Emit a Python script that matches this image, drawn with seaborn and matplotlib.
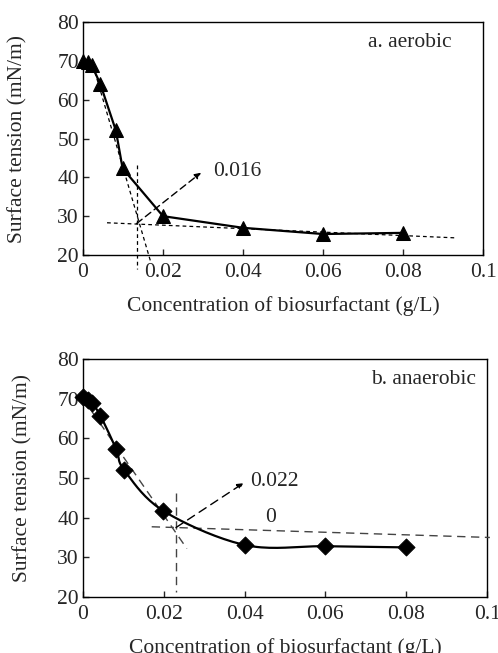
import matplotlib.pyplot as plt
import seaborn as sns
import pandas as pd
import numpy as np

#----------------------------------------------------
# aerobic (a)
conc_a = [0, 0.0012, 0.0022, 0.0043, 0.0082, 0.0099, 0.02, 0.04, 0.06, 0.08]
st_a = [70.0, 69.6, 68.8, 64.1, 52.1, 42.3, 30.0, 27.0, 25.4, 25.7]
# anaerobic (b)
conc_b = [0, 0.0012, 0.0022, 0.0043, 0.0082, 0.0102, 0.0199, 0.0401, 0.06, 0.08]
st_b = [70.4, 69.7, 68.9, 65.7, 57.3, 52.0, 41.7, 33.1, 32.8, 32.5]

# tangent / guide lines (x pair, y pair)
guides_a = [([0.0025, 0.0169], [68.8, 18.3]),
            ([0.006, 0.0934], [28.3, 24.4]),
            ([0.0134, 0.0134], [43.1, 16.3])]
arrow_a = ((0.0134, 28.1), (0.0295, 41.2))
cmc_a = '0.016'

guides_b = [([0.0002, 0.0257], [69.7, 32.2]),
            ([0.017, 0.1007], [37.7, 35.0]),
            ([0.023, 0.023], [46.1, 21.3])]
arrow_b = ((0.023, 37.5), (0.0397, 48.7))
cmc_b = '0.022'

xticks = [0, 0.02, 0.04, 0.06, 0.08, 0.1]
xticklabels = ['0', '0.02', '0.04', '0.06', '0.08', '0.1']
yticks = [20, 30, 40, 50, 60, 70, 80]

#----------------------------------------------------
sns.set_style('ticks')
plt.rcParams['font.family'] = ['Liberation Serif', 'DejaVu Serif']
plt.rcParams['axes.linewidth'] = 1.0
FS = 15.5

def smooth(x, y, n=20):
	# Catmull-Rom style smoothing used only for drawing the connecting curve
	x = np.asarray(x, float); y = np.asarray(y, float)
	px = np.concatenate([[2*x[0]-x[1]], x, [2*x[-1]-x[-2]]])
	py = np.concatenate([[2*y[0]-y[1]], y, [2*y[-1]-y[-2]]])
	xs, ys = [], []
	t = np.linspace(0, 1, n, endpoint=False)
	for i in range(1, len(px)-2):
		for p, out in ((px, xs), (py, ys)):
			p0, p1, p2, p3 = p[i-1], p[i], p[i+1], p[i+2]
			out.extend(0.5*((2*p1) + (-p0+p2)*t + (2*p0-5*p1+4*p2-p3)*t**2 + (-p0+3*p1-3*p2+p3)*t**3))
	xs.append(x[-1]); ys.append(y[-1])
	return np.array(xs), np.array(ys)

def style_ax(ax, label, ylab_x):
	ax.set_xlim(0, 0.1)
	ax.set_ylim(20, 80)
	ax.set_xticks(xticks)
	ax.set_xticklabels(xticklabels)
	ax.set_yticks(yticks)
	ax.tick_params(direction='in', length=4, width=1, labelsize=FS)
	ax.tick_params(axis='x', pad=6)
	ax.tick_params(axis='y', pad=3)
	for s in ax.spines.values():
		s.set_visible(True)
		s.set_color('black')
	ax.set_xlabel('Concentration of biosurfactant (g/L)', fontsize=FS, labelpad=10)
	ax.set_ylabel('Surface tension (mN/m)', fontsize=FS)
	ax.yaxis.set_label_coords(ylab_x, 0.5)
	ax.text(0.0712, 74.8, label, fontsize=FS, va='center', ha='left')

fig = plt.figure(figsize=(4.98, 6.53), dpi=100)
ax1 = fig.add_axes([0.1667, 0.6095, 0.8033, 0.3568])
ax2 = fig.add_axes([0.1667, 0.0858, 0.8113, 0.3644])

#-------- a. aerobic
df_a = pd.DataFrame({'x': conc_a, 'y': st_a})
sns.lineplot(data=df_a, x='x', y='y', ax=ax1, color='black', lw=1.6, marker='^',
	markersize=10, markeredgecolor='black', zorder=4, clip_on=False)
for gx, gy in guides_a:
	ax1.plot(gx, gy, color='black', lw=0.9, ls=(0, (3, 2.5)), clip_on=False, zorder=3)
ax1.annotate('', xy=arrow_a[1], xytext=arrow_a[0],
	arrowprops=dict(arrowstyle='-|>', color='black', lw=1.0, ls=(0, (5, 3)), mutation_scale=9,
		shrinkA=0, shrinkB=0))
ax1.text(0.0324, 41.4, cmc_a, fontsize=FS, va='center', ha='left')
style_ax(ax1, 'a. aerobic', -0.14)

#-------- b. anaerobic
df_b = pd.DataFrame({'x': conc_b, 'y': st_b})
sx, sy = smooth(conc_b, st_b)
ax2.plot(sx, sy, color='black', lw=1.6, zorder=4)
sns.scatterplot(data=df_b, x='x', y='y', ax=ax2, color='black', marker='D', s=75,
	edgecolor='black', zorder=5, legend=False, clip_on=False)
for gx, gy in guides_b:
	ax2.plot(gx, gy, color='#444444', lw=1.0, ls=(0, (6, 4)), clip_on=False, zorder=3)
ax2.annotate('', xy=arrow_b[1], xytext=arrow_b[0],
	arrowprops=dict(arrowstyle='-|>', color='black', lw=1.0, ls=(0, (6, 4)), mutation_scale=9,
		shrinkA=0, shrinkB=0))
ax2.text(0.0414, 49.0, cmc_b, fontsize=FS, va='center', ha='left')
ax2.text(0.0463, 40.0, '0', fontsize=FS, va='center', ha='center')
style_ax(ax2, 'b. anaerobic', -0.125)

fig.savefig('out.png', dpi=100)
plt.close()
